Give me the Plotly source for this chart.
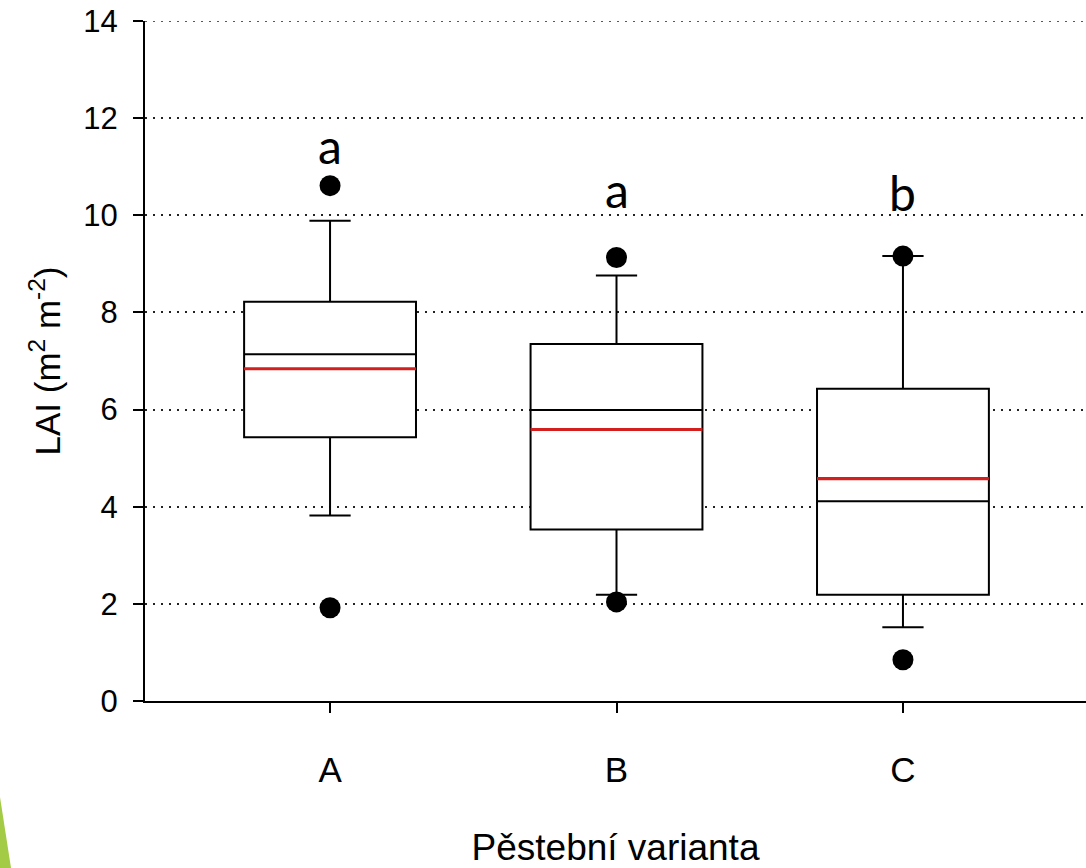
import plotly.graph_objects as go

# ---- data ----
categories = ["A", "B", "C"]
q1 = [5.43, 3.53, 2.19]
median = [7.14, 5.99, 4.11]
q3 = [8.22, 7.35, 6.43]
lower_whisker = [3.82, 2.19, 1.52]
upper_whisker = [9.89, 8.76, 9.16]
means = [6.84, 5.59, 4.58]
outlier_cat = ["A", "A", "B", "B", "C", "C"]
outlier_val = [10.61, 1.92, 9.13, 2.04, 9.16, 0.85]
letters = ["a", "a", "b"]
letter_y = [11.44, 10.54, 10.47]
y_ticks = [0, 2, 4, 6, 8, 10, 12, 14]

W, H = 1086, 868
ML, MR, MT, MB = 145, 0, 21, 167
BOX_W = 0.6
GRID_DASH = "2px,6px"

pos = {c: i for i, c in enumerate(categories)}
xs = list(range(len(categories)))

fig = go.Figure()

fig.add_trace(go.Box(
    x=xs, q1=q1, median=median, q3=q3,
    lowerfence=lower_whisker, upperfence=upper_whisker,
    width=BOX_W, whiskerwidth=0.24,
    fillcolor="white", line=dict(color="black", width=2),
    boxpoints=False, showlegend=False, hoverinfo="skip",
))

# red mean lines
mx, my = [], []
for i, m in enumerate(means):
    mx += [i - BOX_W / 2, i + BOX_W / 2, None]
    my += [m, m, None]
fig.add_trace(go.Scatter(x=mx, y=my, mode="lines",
                         line=dict(color="#D41F1F", width=3.2),
                         showlegend=False, hoverinfo="skip"))

# outliers
fig.add_trace(go.Scatter(x=[pos[c] for c in outlier_cat], y=outlier_val,
                         mode="markers", marker=dict(color="black", size=21),
                         showlegend=False, hoverinfo="skip"))

# significance letters
for i, (t, yv) in enumerate(zip(letters, letter_y)):
    fig.add_annotation(x=i, y=yv, text=t, showarrow=False,
                       font=dict(family="Lato, Open Sans, sans-serif", size=48, color="black"),
                       xanchor="center", yanchor="middle")

# top gridline (plotly drops the grid line at the range edge)
fig.add_shape(type="line", xref="paper", yref="y", x0=0, x1=1,
              y0=y_ticks[-1], y1=y_ticks[-1],
              line=dict(color="#222", width=1.6, dash=GRID_DASH), layer="below")

# decorative green sliver at bottom-left (slide decoration)
pw, ph = W - ML - MR, H - MT - MB
def px(xp, yp):
    return (xp - ML) / pw, (H - MB - yp) / ph
p1, p2, p3 = px(0, 797), px(11, 868), px(0, 868)
fig.add_shape(type="path", xref="paper", yref="paper",
              path=f"M {p1[0]} {p1[1]} L {p2[0]} {p2[1]} L {p3[0]} {p3[1]} Z",
              fillcolor="#A3CB45", line=dict(width=0), layer="above")

font_main = "Arial, Liberation Sans, sans-serif"
fig.update_layout(
    width=W, height=H,
    margin=dict(l=ML, r=MR, t=MT, b=MB, autoexpand=False),
    paper_bgcolor="white", plot_bgcolor="white",
    xaxis=dict(
        range=[-0.646, 2.639], tickvals=xs, ticktext=categories,
        showgrid=False, zeroline=False,
        showline=True, linecolor="black", linewidth=2,
        ticks="outside", ticklen=10, tickwidth=2, tickcolor="black",
        tickfont=dict(family=font_main, size=35, color="black"),
        ticklabelstandoff=27,
        title=dict(text="Pěstební varianta", standoff=51,
                   font=dict(family=font_main, size=37, color="black")),
    ),
    yaxis=dict(
        range=[0, 14], tickvals=y_ticks,
        showgrid=True, gridcolor="#222", gridwidth=1.6, griddash=GRID_DASH,
        zeroline=False,
        showline=True, linecolor="black", linewidth=2,
        ticks="outside", ticklen=10, tickwidth=2, tickcolor="black",
        tickfont=dict(family=font_main, size=31, color="black"),
        ticklabelstandoff=9,
        title=dict(text="LAI (m<sup>2</sup> m<sup>-2</sup>)", standoff=12,
                   font=dict(family=font_main, size=35, color="black")),
    ),
)

fig.write_html("out.html")
